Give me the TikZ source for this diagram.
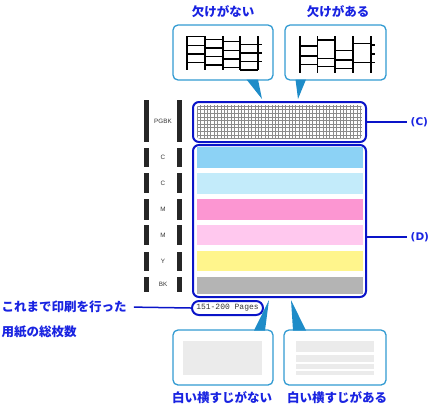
\documentclass[tikz,border=0pt]{standalone}
\usepackage{fontspec}
\newfontfamily\jpfont{Noto Sans CJK JP}
\newfontfamily\labfont{DejaVu Sans}
\setsansfont{Liberation Sans}
\setmonofont{Liberation Mono}
\usetikzlibrary{positioning}

\definecolor{jpblue}{RGB}{25,35,225}
\definecolor{frameblue}{RGB}{10,20,200}
\definecolor{callblue}{RGB}{50,155,210}
\definecolor{tipblue}{RGB}{30,140,200}
\definecolor{inkC}{RGB}{140,210,245}
\definecolor{inkLC}{RGB}{195,235,250}
\definecolor{inkM}{RGB}{252,150,210}
\definecolor{inkLM}{RGB}{255,200,238}
\definecolor{inkY}{RGB}{255,245,140}
\definecolor{inkK}{RGB}{180,180,180}
\definecolor{paperK}{RGB}{235,235,235}

\begin{document}
\begin{tikzpicture}[x=1pt, y=-1pt,
    jplabel/.style={font=\jpfont\bfseries\fontsize{12.5}{14}\selectfont, text=jpblue, inner sep=0pt},
    callout/.style={draw=callblue, line width=1.3pt, rounded corners=5pt, fill=white, minimum height=55pt},
    bluebox/.style={draw=frameblue, line width=2pt, rounded corners=6pt, minimum width=173pt},
    pat/.style={line width=1.4pt, black},
    barlabel/.style={font=\sffamily\fontsize{6.3}{7}\selectfont, text=black!80, inner sep=0pt},
    partlabel/.style={font=\labfont\bfseries\fontsize{10.5}{12}\selectfont, text=jpblue, inner sep=3.5pt, anchor=west}]
    \useasboundingbox (0,0) rectangle (430,410);

    % Define nodes
    \node[jplabel] (okhead) at (223,12) {欠けがない};
    \node[jplabel] (nghead) at (338,12) {欠けがある};
    \node[callout, minimum width=100pt] (okcall) at (223,52.5) {};
    \node[callout, minimum width=101pt] (ngcall) at (335.5,52.5) {};
    \node[bluebox, minimum height=40pt] (pgbk) at (279.5,122) {};
    \node[bluebox, minimum height=152pt] (colour) at (279.5,221) {};
    \node[draw=frameblue, line width=2pt, rounded corners=7pt, minimum width=71pt, minimum height=14pt,
        inner sep=0pt, font=\ttfamily\fontsize{8}{9}\selectfont, text=black!80] (pages) at (227.5,308) {151-200 Pages};
    \node[callout, minimum width=100pt] (okband) at (223,357.5) {};
    \node[callout, minimum width=102pt] (ngband) at (335,357.5) {};
    \node[jplabel] (okfoot) at (222,398) {白い横すじがない};
    \node[jplabel] (ngfoot) at (337,398) {白い横すじがある};
    \node[jplabel, anchor=west] (note1) at (1.5,307) {これまで印刷を行った};
    \node[jplabel, anchor=west] (note2) at (1.5,332) {用紙の総枚数};
    \node[partlabel] (clab) at (407,122) {(C)};
    \node[partlabel] (dlab) at (407,237) {(D)};

    % Connectors
    \draw[frameblue, line width=1.5pt] (pgbk.east) -- (clab.west);
    \draw[frameblue, line width=1.5pt] (dlab.west) -- (dlab.west -| colour.east);
    \draw[frameblue, line width=1.5pt, shorten <=7pt] (note1.east) -- (pages.west);

    % Callout pointers
    \fill[tipblue] (246.5,79.5) -- (258,79.5) -- (262,99) -- cycle;
    \fill[tipblue] (295.5,79.5) -- (306,79.5) -- (298,99) -- cycle;
    \fill[tipblue] (254,330.5) -- (265,330.5) -- (269,300) -- cycle;
    \fill[tipblue] (293,330.5) -- (306,330.5) -- (291,300) -- cycle;

    % Nozzle pattern, nothing missing
    \foreach \x in {187,205,223,240,258}
        \draw[pat] (\x,36) -- (\x,70);
    \foreach \i in {0,...,3}
        \foreach \j in {0,...,3}
            \draw[pat] ({187+17.75*\i},{36.7+2.5*\i+8.6*\j}) -- ++(17.75,0);
    \foreach \j in {0,1,2}
        \draw[pat] (258,{44.2+8.6*\j}) -- ++(4,0);

    % Nozzle pattern, lines missing
    \foreach \x in {300,317.5,335,353,371}
        \draw[pat] (\x,36) -- (\x,73);
    \foreach \xa/\xb/\y in {300/317.5/46, 300/317.5/56, 300/317.5/64.3,
            317.5/335/40, 317.5/335/58.3, 317.5/335/66.7,
            335/353/50.7, 335/353/60, 335/353/68.3,
            353/371/43.3, 353/371/62.3}
        \draw[pat] (\xa,\y) -- (\xb,\y);
    \foreach \y in {45,54,62.3}
        \draw[pat] (371,\y) -- ++(4,0);

    % Black pattern grid
    \begin{scope}
        \clip[rounded corners=4pt] (196.5,105) rectangle (362.5,139);
        \foreach \x in {197,200.4,...,363}
            \draw[black!45, line width=0.45pt] (\x,105) -- (\x,139);
        \foreach \y in {106,109.6,...,139}
            \draw[black!45, line width=0.45pt] (196.5,\y) -- (362.5,\y);
    \end{scope}

    % Colour stripes
    \foreach \ya/\yb/\ink in {147/167.5/inkC, 172.5/193.5/inkLC, 199/220/inkM,
            225/245/inkLM, 251/271/inkY, 276.5/293.5/inkK}
        \fill[\ink] (197,\ya) rectangle (363,\yb);

    % Ink bars and names
    \foreach \ya/\yb/\name [count=\n] in {100/142/PGBK, 148/167/C, 173/193/C,
            199/220/M, 225/245/M, 252/271/Y, 277/292/BK} {
        \fill[black!85] (144,\ya) rectangle (148.5,\yb);
        \fill[black!85] (177,\ya) rectangle (181.5,\yb);
        \node[barlabel] (bar\n) at (163,{(\ya+\yb)/2}) {\name};
    }

    % Printed paper, no streaks
    \fill[paperK] (183,341) rectangle (262,375);
    % Printed paper, white streaks
    \fill[paperK] (296,341) rectangle (374,375);
    \foreach \ya/\yb in {352/355, 361.5/364, 368.5/370.5}
        \fill[white] (296,\ya) rectangle (374,\yb);
\end{tikzpicture}
\end{document}
